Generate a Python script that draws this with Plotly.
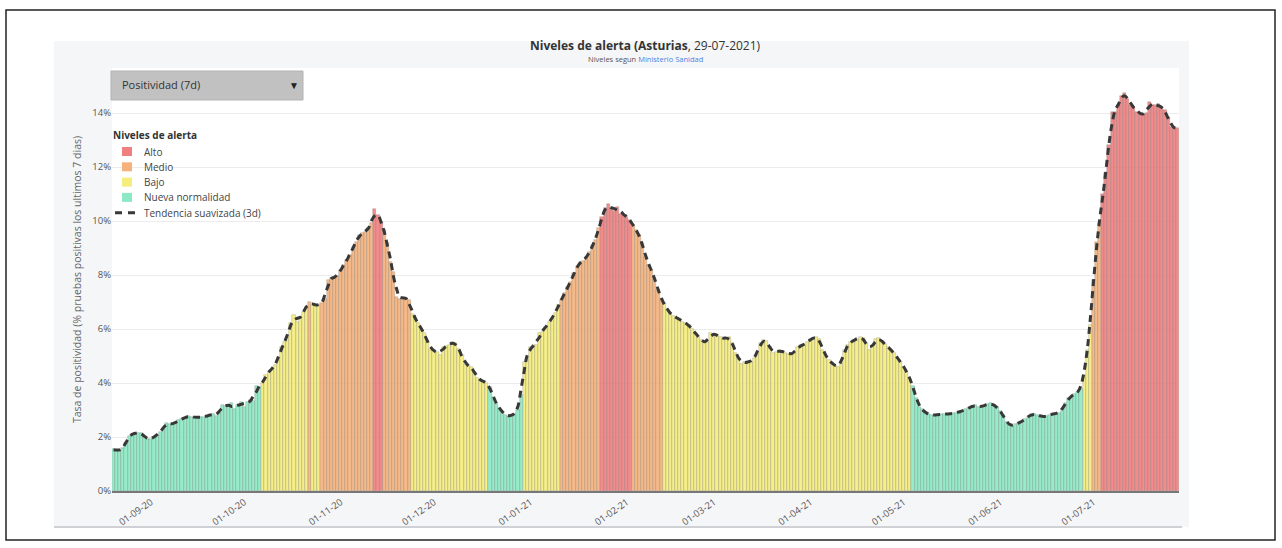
import pandas as pd
import plotly.graph_objects as go

# --- datos (Asturias, positividad 7d, %) ---
fechas = pd.date_range("2020-08-20", "2021-07-28", freq="D")

positividad = [
    # ago-oct 2020
    1.56, 1.50, 1.50, 1.58, 1.77, 2.05, 2.10, 2.15, 2.16, 2.16, 2.00, 1.91,
    1.93, 2.00, 2.07, 2.20, 2.30, 2.53, 2.50, 2.44, 2.55, 2.63, 2.65, 2.72,
    2.78, 2.75, 2.74, 2.72, 2.74, 2.74, 2.78, 2.82, 2.85, 2.78, 2.90, 3.19,
    3.15, 3.12, 3.25, 3.03, 3.20, 3.31, 3.12, 3.30, 3.37, 3.35, 3.89, 3.85,
    # oct-nov 2020
    4.01, 4.30, 4.42, 4.54, 4.67, 4.91, 5.35, 5.53, 5.72, 6.21, 6.52, 6.27,
    6.40, 6.64, 6.83, 7.01, 6.89, 6.89, 6.89, 6.95, 7.13, 7.81, 7.88, 7.91,
    7.96, 8.20, 8.37, 8.56, 8.74, 9.05, 9.23, 9.48, 9.57, 9.60, 9.73, 9.91,
    10.46, 10.22, 9.98, 9.67, 9.17, 8.49, 8.12, 7.20, 7.13, 7.20, 7.13, 7.07,
    6.57, 6.40, 6.21,
    # dic 2020
    5.96, 5.84, 5.53, 5.22, 5.22, 5.16, 5.04, 5.35, 5.38, 5.41, 5.53, 5.47,
    5.25, 5.04, 4.67, 4.67, 4.60, 4.42, 4.17, 4.11, 4.05, 4.01,
    3.86, 3.49, 3.24, 3.06, 2.93, 2.81, 2.75, 2.81, 2.87, 3.00, 3.55,
    # ene-feb 2021
    4.79, 4.98, 5.35, 5.41, 5.41, 5.84, 5.90, 6.09, 6.27, 6.40, 6.59, 6.89,
    7.07, 7.32, 7.57, 7.75, 8.06, 8.31, 8.49, 8.53, 8.62, 8.86, 9.11, 9.30, 9.73,
    10.16, 10.47, 10.63, 10.47, 10.38, 10.53, 10.28, 10.28, 10.16, 10.04,
    9.85, 9.67, 9.48, 9.17, 8.68, 8.37, 8.19, 7.88, 7.44, 7.13,
    # feb-may 2021
    6.95, 6.70, 6.58, 6.48, 6.42, 6.36, 6.27, 6.21, 6.15, 5.99, 5.84, 5.72,
    5.60, 5.47, 5.53, 5.84, 5.81, 5.77, 5.72, 5.62, 5.65, 5.72, 5.47, 5.10, 4.91,
    4.72, 4.77, 4.79, 4.79, 4.91, 5.16, 5.47, 5.59, 5.57, 5.28, 5.12, 5.16,
    5.22, 5.16, 5.12, 5.07, 5.10, 5.10, 5.35, 5.41, 5.37, 5.53, 5.62, 5.65,
    5.72, 5.62, 5.22, 4.98, 4.85, 4.73, 4.63, 4.60, 4.73, 5.22, 5.40, 5.53,
    5.59, 5.62, 5.72, 5.65, 5.47, 5.22, 5.35, 5.62, 5.65, 5.56, 5.44, 5.32,
    5.22, 5.10, 4.91, 4.79, 4.60, 4.42, 4.17,
    # may-jun 2021
    3.88, 3.43, 3.12, 3.02, 2.90, 2.84, 2.81, 2.81, 2.83, 2.84, 2.85, 2.85,
    2.86, 2.88, 2.90, 2.94, 2.97, 3.02, 3.07, 3.15, 3.17, 3.12, 3.12, 3.17,
    3.21, 3.25, 3.19, 3.10, 2.97, 2.81, 2.57, 2.44, 2.40, 2.48, 2.53, 2.57,
    2.65, 2.75, 2.84, 2.84, 2.83, 2.78, 2.73, 2.78, 2.83, 2.84, 2.88, 2.90,
    3.02, 3.25, 3.43, 3.52, 3.59, 3.68, 3.77,
    # jul 2021
    4.30, 5.22, 6.15, 7.81, 9.24, 9.94,
    11.02, 11.77, 12.81, 14.03, 14.03, 14.30, 14.63, 14.76, 14.54, 14.30,
    14.24, 14.05, 13.99, 13.93, 13.99, 14.42, 14.30, 14.30, 14.33, 14.17,
    14.11, 13.86, 13.47, 13.47, 13.43,
]

# tramos consecutivos de nivel de alerta (nivel, dias)
tramos_nivel = [
    ("Nueva normalidad", 48), ("Bajo", 15), ("Medio", 1), ("Bajo", 3),
    ("Medio", 17), ("Alto", 3), ("Medio", 9), ("Bajo", 25),
    ("Nueva normalidad", 11), ("Bajo", 12), ("Medio", 13), ("Alto", 10),
    ("Medio", 10), ("Bajo", 80), ("Nueva normalidad", 55), ("Bajo", 3),
    ("Medio", 3), ("Alto", 25),
]

niveles = ["Alto", "Medio", "Bajo", "Nueva normalidad"]
colores = {"Alto": "#f08080", "Medio": "#f5b27d",
           "Bajo": "#f5ed7d", "Nueva normalidad": "#8ce9c3"}

nivel = []
for n, dias in tramos_nivel:
    nivel += [n] * dias

df = pd.DataFrame({"fecha": fechas, "pos": positividad, "nivel": nivel})
df["tendencia"] = df["pos"].rolling(3, center=True, min_periods=1).mean()

FONT = "Open Sans"

fig = go.Figure()
for n in niveles:
    fig.add_trace(go.Bar(
        x=df["fecha"], y=df["pos"].where(df["nivel"] == n), name=n,
        marker=dict(color=colores[n], opacity=0.9,
                    line=dict(color="rgba(70,70,70,0.35)", width=0.6)),
        showlegend=False))

fig.add_trace(go.Scatter(
    x=df["fecha"], y=df["tendencia"], mode="lines",
    name="Tendencia suavizada (3d)",
    line=dict(color="#383838", width=3, dash="7px,5px", shape="spline"),
    showlegend=False))

# pixel -> paper helpers (plot area 112..1179 x 68..491)
def px(x):
    return (x - 112) / 1067

def py(y):
    return (491 - y) / 423

shapes = [
    dict(type="rect", xref="paper", yref="paper", x0=px(6), x1=px(1275),
         y0=py(540), y1=py(10), line=dict(color="#222", width=1.5),
         fillcolor="white", layer="below"),
    dict(type="rect", xref="paper", yref="paper", x0=px(54), x1=px(1189),
         y0=py(527), y1=py(41), line=dict(width=0),
         fillcolor="#f5f6f8", layer="below"),
    dict(type="line", xref="paper", yref="paper", x0=px(54), x1=px(1182),
         y0=py(527), y1=py(527), line=dict(color="#cfd1d4", width=2),
         layer="below"),
    dict(type="rect", xref="paper", yref="paper", x0=0, x1=1, y0=0, y1=1,
         line=dict(width=0), fillcolor="white", layer="below"),
    # dropdown
    dict(type="rect", xref="paper", yref="paper", x0=px(111), x1=px(303),
         y0=py(100), y1=py(71), line=dict(color="#b3b3b3", width=1),
         fillcolor="#c1c1c1", layer="above"),
]

def nota(text, x, y, size, color="#444", xanchor="left"):
    return dict(text=text, x=x, y=y, xref="paper", yref="paper",
                xanchor=xanchor, yanchor="middle", showarrow=False,
                font=dict(family=FONT, size=size, color=color))

annotations = [
    nota("<b>Niveles de alerta (Asturias</b>, 29-07-2021)", 0.5, py(46),
         12, "#333", "center"),
    nota("Niveles segun <span style='color:#4f7fe3'>Ministerio Sanidad</span>",
         0.5, py(58.5), 7.5, "#555", "center"),
    nota("Positividad (7d)", px(120), py(85), 11, "#333"),
    nota("▼", px(294), py(85), 10, "#222", "center"),
    nota("<b>Niveles de alerta</b>", px(111), py(135), 10, "#333"),
]

# leyenda manual
for i, n in enumerate(niveles):
    yc = 151.5 + 15.3 * i
    shapes.append(dict(type="rect", xref="paper", yref="paper",
                       x0=px(122), x1=px(132), y0=py(yc + 4.5), y1=py(yc - 4.5),
                       line=dict(width=0), fillcolor=colores[n], layer="above"))
    annotations.append(nota(n, px(142), py(yc), 10))
yc = 151.5 + 15.3 * 4
shapes.append(dict(type="line", xref="paper", yref="paper", x0=px(115),
                   x1=px(137), y0=py(yc), y1=py(yc), layer="above",
                   line=dict(color="#383838", width=3, dash="7px,6px")))
annotations.append(nota("Tendencia suavizada (3d)", px(142), py(yc), 10))

fig.update_layout(
    width=1282, height=548,
    margin=dict(l=112, r=103, t=68, b=57),
    paper_bgcolor="white", plot_bgcolor="white",
    barmode="overlay", bargap=0,
    font=dict(family=FONT, color="#555"),
    shapes=shapes, annotations=annotations,
    showlegend=False,
    xaxis=dict(tickformat="%d-%m-%y", dtick="M1", tick0="2020-09-01",
               tickangle=-35, showgrid=False, showline=True,
               linecolor="#777", linewidth=2, ticks="",
               tickfont=dict(family=FONT, size=9.5, color="#555")),
    yaxis=dict(range=[0, 15.67], dtick=2, ticksuffix="%",
               gridcolor="#ececec", zeroline=False, showline=False,
               tickfont=dict(family=FONT, size=9.5, color="#555"),
               title=dict(text="Tasa de positividad (% pruebas positivas los ultimos 7 dias)",
                          font=dict(family=FONT, size=10.5, color="#666"),
                          standoff=8)),
)

fig.write_html("out.html", config={"displayModeBar": False},
               post_script="document.body.style.margin='0';"
                           "document.body.style.overflow='hidden';")
